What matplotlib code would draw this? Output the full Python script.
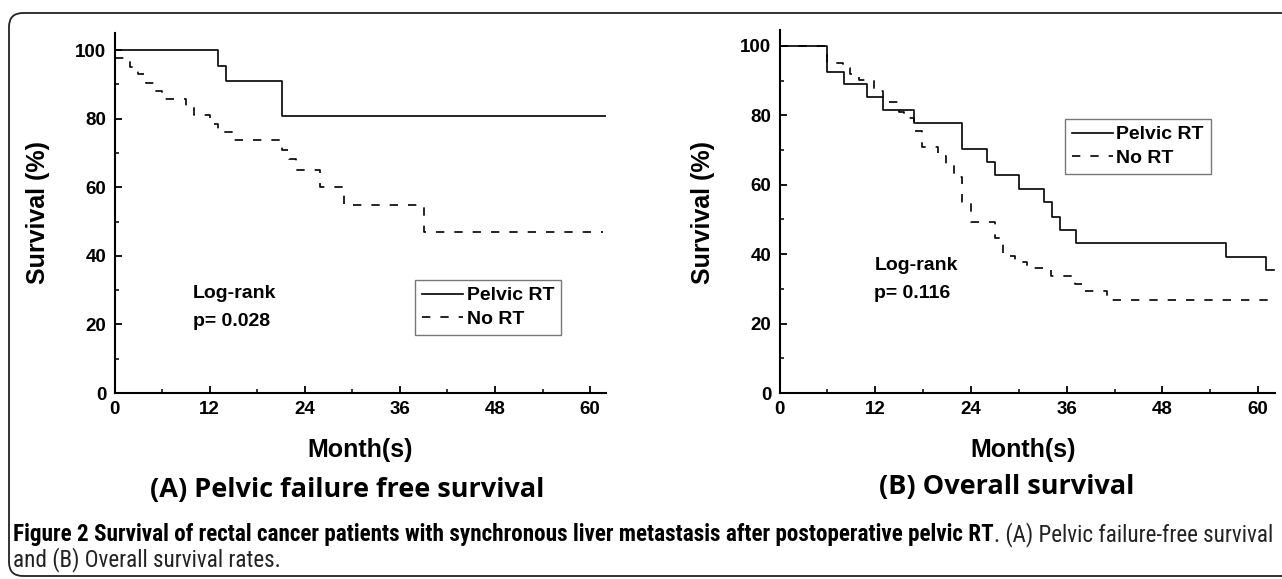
import matplotlib
matplotlib.use('Agg')
import matplotlib.pyplot as plt
from matplotlib import font_manager
from matplotlib.patches import FancyBboxPatch
from matplotlib.transforms import IdentityTransform
from matplotlib.ticker import MultipleLocator

W, H = 1282, 579

# ---- data (months, survival %) ----
# (A) pelvic failure free survival
a_rt_t = [0, 13.1, 14.1, 21.1, 62.0]
a_rt_s = [100, 95.5, 90.9, 80.8, 80.8]
a_no_t = [0, 2.0, 3.0, 4.0, 5.0, 6.0, 9.0, 10.0, 12.0, 13.0, 15.0, 21.1, 22.0, 22.9, 25.9, 29.0, 39.0, 61.6]
a_no_s = [97.6, 95.2, 92.9, 90.5, 88.1, 85.7, 83.3, 81.0, 78.6, 76.2, 73.8, 70.9, 68.3, 64.9, 60.2, 54.8, 46.9, 46.9]

# (B) overall survival
b_rt_t = [0, 6.0, 8.1, 11.0, 13.0, 16.9, 22.9, 26.0, 27.0, 30.0, 33.1, 34.1, 35.1, 37.1, 56.0, 61.0, 62.0]
b_rt_s = [100, 92.6, 88.9, 85.2, 81.5, 77.8, 70.4, 66.7, 62.8, 58.7, 55.0, 50.7, 46.9, 43.1, 39.1, 35.3, 35.3]
b_no_t = [0, 6.0, 8.0, 8.8, 10.0, 11.8, 13.0, 15.0, 15.6, 16.8, 17.9, 19.9, 20.9, 21.9, 22.9, 24.0,
          27.0, 28.0, 29.5, 31.0, 34.0, 37.0, 38.0, 41.0, 62.0]
b_no_s = [100, 95.2, 93.6, 91.9, 90.3, 87.1, 83.8, 81.0, 79.2, 75.6, 71.0, 68.3, 65.6, 62.2, 55.0, 49.3,
          44.7, 39.5, 37.8, 35.9, 33.7, 31.5, 29.5, 26.9, 26.9]

xticks = [0, 12, 24, 36, 48, 60]
yticks = [0, 20, 40, 60, 80, 100]
labels = ['Pelvic RT', 'No RT']

fonts = {f.name for f in font_manager.fontManager.ttflist}
narrow = 'Liberation Sans'
for cand in ['Liberation Sans Narrow', 'Roboto Condensed', 'Open Sans Condensed']:
    if cand in fonts:
        narrow = cand
        break
plt.rcParams['font.family'] = ['Liberation Sans', 'DejaVu Sans']


def px(x, y):
    # pixel (from top-left) -> figure fraction
    return x / W, 1 - y / H


fig = plt.figure(figsize=(W / 100, H / 100), dpi=100)
fig.patch.set_facecolor('white')

# rounded frame around the whole figure (runs off right/bottom edge)
frame = FancyBboxPatch((9, 3), 1400, 563, boxstyle='round,pad=0,rounding_size=14',
                       fill=False, edgecolor='#222222', linewidth=1.3)
frame.set_transform(IdentityTransform())
fig.patches.append(frame)


def panel(rect, xmax, ymax, rt_t, rt_s, no_t, no_s, leg_xy, lr_xy, pval):
    ax = fig.add_axes(rect)
    ax.step(rt_t, rt_s, where='post', color='black', lw=1.2, label=labels[0])
    ax.step(no_t, no_s, where='post', color='black', lw=1.2, linestyle=(0, (5, 6)), label=labels[1])
    ax.set_xlim(0, xmax)
    ax.set_ylim(0, ymax)
    ax.set_xticks(xticks)
    ax.set_yticks(yticks)
    ax.xaxis.set_minor_locator(MultipleLocator(6))
    ax.yaxis.set_minor_locator(MultipleLocator(10))
    for s in ['top', 'right']:
        ax.spines[s].set_visible(False)
    for s in ['left', 'bottom']:
        ax.spines[s].set_linewidth(1.5)
    ax.tick_params(which='major', direction='in', length=5, width=1.3, labelsize=13.5, pad=6)
    ax.tick_params(which='minor', direction='in', length=3, width=1.1)
    for t in ax.get_xticklabels() + ax.get_yticklabels():
        t.set_fontweight('bold')
    leg = ax.legend(loc='upper left', bbox_to_anchor=leg_xy, borderaxespad=0, fancybox=False,
                    frameon=True, edgecolor='#555555', handlelength=2.1, handletextpad=0.2,
                    borderpad=0.35, labelspacing=0.3, prop={'weight': 'bold', 'size': 14})
    leg.get_frame().set_linewidth(1.0)
    ax.text(lr_xy[0], lr_xy[1], 'Log-rank', fontsize=14, fontweight='bold', va='center')
    ax.text(lr_xy[0], lr_xy[1] - 8.2, 'p= ' + pval, fontsize=14, fontweight='bold', va='center')
    return ax


# axes rectangles from pixel positions
l0, r0 = 114.5, 606
panel([l0 / W, 1 - 393 / H, (r0 - l0) / W, 360 / H], 62, 105,
      a_rt_t, a_rt_s, a_no_t, a_no_s, (0.612, 0.314), (9.9, 29.0), '0.028')
l1, r1 = 779.5, 1275
panel([l1 / W, 1 - 393 / H, (r1 - l1) / W, 363 / H], 62.1, 104.6,
      b_rt_t, b_rt_s, b_no_t, b_no_s, (0.576, 0.755), (11.9, 36.8), '0.116')

# axis titles
for x in [38, 703]:
    fig.text(*px(x, 213), 'Survival (%)', rotation=90, ha='center', va='center',
             fontsize=18, fontweight='bold')
for x in [360, 1023]:
    fig.text(*px(x, 450), 'Month(s)', ha='center', va='center', fontsize=18, fontweight='bold')

fig.text(*px(347, 490), '(A) Pelvic failure free survival', ha='center', va='center',
         fontsize=19.5, fontweight='bold', family='Open Sans')
fig.text(*px(1007, 487), '(B) Overall survival', ha='center', va='center',
         fontsize=19.5, fontweight='bold', family='Open Sans')

# caption, first line fitted to run from x=13 to x=1279
cap_bold = ('Figure 2 Survival of rectal cancer patients with synchronous liver metastasis '
            'after postoperative pelvic RT')
cap_rest = '. (A) Pelvic failure-free survival'
cap_line2 = 'and (B) Overall survival rates.'
base = 12.0
t1 = fig.text(*px(13, 535), cap_bold, ha='left', va='center', fontsize=base,
              fontweight='bold', family=narrow)
t2 = fig.text(0, 1 - 535 / H, cap_rest, ha='left', va='center', fontsize=base,
              family=narrow, color='#222222')
fig.canvas.draw()
r = fig.canvas.get_renderer()
total = t1.get_window_extent(r).width + t2.get_window_extent(r).width
size = base * (1279 - 13) / total
t1.set_fontsize(size)
t2.set_fontsize(size)
fig.canvas.draw()
t2.set_x(t1.get_window_extent(r).x1 / W)
fig.text(*px(13, 560), cap_line2, ha='left', va='center', fontsize=size,
         family=narrow, color='#222222')

fig.savefig('out.png', dpi=100)
